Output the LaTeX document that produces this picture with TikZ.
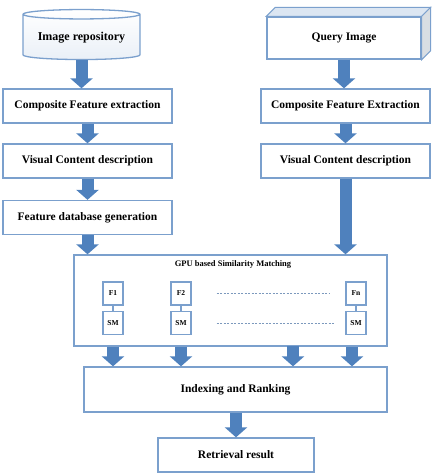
\documentclass[tikz,border=0pt]{standalone}
\usepackage{fontspec}
\setmainfont{Liberation Serif}
\usetikzlibrary{positioning,arrows.meta,shapes.geometric}
\definecolor{edgeblue}{HTML}{7BA0CD}
\definecolor{arrowblue}{HTML}{4F81BD}
\definecolor{faceblue}{HTML}{DCE6F2}

\begin{document}
\begin{tikzpicture}[
  x=1pt, y=-1pt,
  box/.style={draw=edgeblue, line width=1.3pt, align=center, inner sep=2pt, font=\bfseries\fontsize{11.5}{13}\selectfont},
  stage/.style={box, minimum width=169pt, minimum height=34pt},
  cell/.style={draw=edgeblue, line width=1.3pt, minimum width=20pt, minimum height=23pt, inner sep=1pt, font=\bfseries\fontsize{7.5}{9}\selectfont},
  blockarr/.style={draw=arrowblue, line width=12pt, -{Triangle[width=22pt,length=10pt]}},
  dotline/.style={draw=edgeblue!80!gray, dashed, dash pattern=on 2pt off 1.5pt, line width=0.6pt}
]
\useasboundingbox (0,0) rectangle (438,474);

% database side
\node[cylinder, shape border rotate=90, aspect=0.1, draw=edgeblue, line width=1.3pt,
  minimum width=117pt, minimum height=50pt, top color=white, bottom color=faceblue!60,
  font=\bfseries\fontsize{12}{14}\selectfont] (repo) at (81.5,38) {Image repository};
\node[stage] (ce1) at (87.5,106) {Composite Feature extraction};
\node[stage] (vc1) at (87.5,161) {Visual Content description};
\node[stage] (fd1) at (87.5,217.5) {Feature database generation};

% query side
\node[box, minimum width=154pt, minimum height=42pt] (query) at (344,38) {Query Image};
\filldraw[fill=faceblue, draw=edgeblue, line width=1pt] (query.north west) -- ++(9,-9) -- ([shift={(9,-9)}]query.north east) -- (query.north east) -- cycle;
\filldraw[fill=faceblue!70!gray!60, draw=edgeblue, line width=1pt] (query.north east) -- ++(9,-9) -- ([shift={(9,-9)}]query.south east) -- (query.south east) -- cycle;
\node[stage] (ce2) at (345.5,106) {Composite Feature Extraction};
\node[stage] (vc2) at (345.5,161) {Visual Content description};

% matching
\node[box, minimum width=313pt, minimum height=91pt] (gpu) at (230.5,300.5) {};
\node[font=\bfseries\fontsize{8.5}{10}\selectfont] (gputitle) at (233,264) {GPU based Similarity Matching};
\node[cell] (f1) at (113,293.5) {F1};
\node[cell] (sm1) at (113,323) {SM};
\node[cell] (f2) at (181,293.5) {F2};
\node[cell] (sm2) at (181,323) {SM};
\node[cell] (fn) at (356,293.5) {Fn};
\node[cell] (sm3) at (356,323) {SM};
\draw[edgeblue, line width=1.3pt] (f1) -- (sm1);
\draw[edgeblue, line width=1.3pt] (f2) -- (sm2);
\draw[edgeblue, line width=1.3pt] (fn) -- (sm3);
\draw[dotline] ([xshift=25pt]f2.east) -- ([xshift=-16pt]fn.west);
\draw[dotline] ([xshift=25pt]sm2.east) -- ([xshift=-10pt]sm3.west);

\node[box, minimum width=303pt, minimum height=45pt] (idx) at (235.5,389.5) {Indexing and Ranking};
\node[box, minimum width=156pt, minimum height=34pt] (ret) at (236,455) {Retrieval result};
\coordinate (mid) at (293,346);

% arrows
\draw[blockarr] (repo.south) -- (repo.south |- ce1.north);
\draw[blockarr] (ce1) -- (vc1);
\draw[blockarr] (vc1) -- (fd1);
\draw[blockarr] (fd1) -- (fd1 |- gpu.north);
\draw[blockarr] (query.south) -- (query.south |- ce2.north);
\draw[blockarr] (ce2) -- (vc2);
\draw[blockarr] (vc2) -- (vc2 |- gpu.north);
\draw[blockarr] (gpu.south -| sm1) -- (idx.north -| sm1);
\draw[blockarr] (gpu.south -| sm2) -- (idx.north -| sm2);
\draw[blockarr] (mid) -- (idx.north -| mid);
\draw[blockarr] ([xshift=-4pt]gpu.south -| sm3) -- ([xshift=-4pt]idx.north -| sm3);
\draw[blockarr] (idx.south -| ret) -- (ret);
\end{tikzpicture}
\end{document}
